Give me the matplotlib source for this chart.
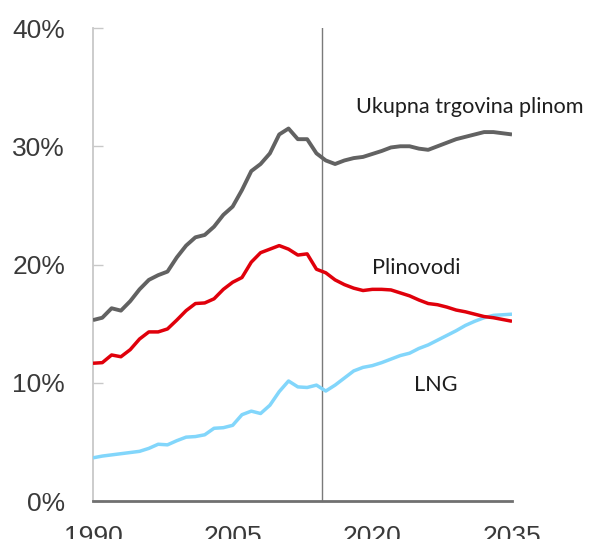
import matplotlib
matplotlib.use("Agg")
import matplotlib.pyplot as plt

years = list(range(1990, 2036))

total_trade = [15.3, 15.5, 16.3, 16.1, 16.9, 17.9, 18.7, 19.1, 19.4, 20.6,
               21.6, 22.3, 22.5, 23.2, 24.2, 24.9, 26.3, 27.9, 28.5, 29.4,
               31.0, 31.5, 30.6, 30.6, 29.4, 28.8, 28.5, 28.8, 29.0, 29.1,
               29.35, 29.6, 29.9, 30.0, 30.0, 29.8, 29.7, 30.0, 30.3, 30.6,
               30.8, 31.0, 31.2, 31.2, 31.1, 31.0]

pipelines = [11.65, 11.7, 12.35, 12.2, 12.8, 13.7, 14.3, 14.3, 14.55, 15.3,
             16.1, 16.7, 16.75, 17.1, 17.9, 18.5, 18.9, 20.2, 21.0, 21.3,
             21.6, 21.3, 20.8, 20.9, 19.6, 19.3, 18.7, 18.3, 18.0, 17.8,
             17.9, 17.9, 17.85, 17.6, 17.35, 17.0, 16.7, 16.6, 16.4, 16.15,
             16.0, 15.8, 15.6, 15.5, 15.35, 15.2]

lng = [3.65, 3.8, 3.9, 4.0, 4.1, 4.2, 4.45, 4.8, 4.75, 5.1,
       5.4, 5.45, 5.6, 6.15, 6.2, 6.4, 7.3, 7.6, 7.4, 8.1,
       9.25, 10.15, 9.65, 9.6, 9.8, 9.3, 9.8, 10.4, 11.0, 11.3,
       11.45, 11.7, 12.0, 12.3, 12.5, 12.9, 13.2, 13.6, 14.0, 14.4,
       14.85, 15.2, 15.5, 15.7, 15.75, 15.8]

xtick_values = [1990, 2005, 2020, 2035]
ytick_values = [0, 10, 20, 30, 40]
ytick_labels = ["0%", "10%", "20%", "30%", "40%"]
divider_year = 2014.6

labels = ["Ukupna trgovina plinom", "Plinovodi", "LNG"]

fig = plt.figure(figsize=(5.9, 5.39), dpi=100)
ax = fig.add_axes([0.1576, 0.0705, 0.7102, 0.8775])

ax.plot(years, total_trade, color="#626262", lw=2.8, solid_capstyle="butt", zorder=3)
ax.plot(years, pipelines, color="#e0000b", lw=2.5, solid_capstyle="butt", zorder=4)
ax.plot(years, lng, color="#82d6fb", lw=2.5, solid_capstyle="butt", zorder=3)

ax.axvline(divider_year, color="#7a7a7a", lw=1.0, zorder=2)

ax.set_xlim(1990, 2035)
ax.set_ylim(0, 40)

for s in ["top", "right"]:
    ax.spines[s].set_visible(False)
ax.spines["left"].set_color("#c8c8c8")
ax.spines["left"].set_linewidth(1.3)
ax.spines["bottom"].set_color("#707070")
ax.spines["bottom"].set_linewidth(2.0)

ax.set_yticks(ytick_values)
ax.set_yticklabels(ytick_labels)
ax.set_xticks(xtick_values)
ax.set_xticklabels([str(v) for v in xtick_values])

ax.tick_params(axis="y", direction="in", length=7, width=1.0, color="#c8c8c8",
               pad=20, labelsize=19, labelcolor="#3a3a3a")
ax.tick_params(axis="x", length=0, pad=17, labelsize=19, labelcolor="#3a3a3a")
for t in ax.get_yticklabels() + ax.get_xticklabels():
    t.set_family(["Liberation Sans", "DejaVu Sans"])

tfont = dict(family=["Lato", "DejaVu Sans"], fontsize=15.6, color="#1e1e1e", va="center", ha="left")
ax.text(2018.3, 33.3, labels[0], clip_on=False, **tfont)
ax.text(2020.0, 19.7, labels[1], **tfont)
ax.text(2024.45, 9.8, labels[2], **tfont)

fig.savefig("out.png", dpi=100)
